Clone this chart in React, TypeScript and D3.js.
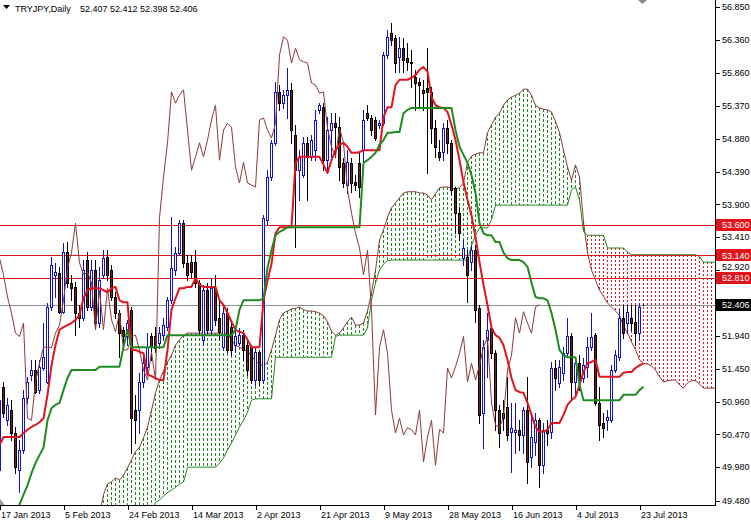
import React from 'react';
import * as d3 from 'd3';

// ---------- DATA ----------
const opens = [49.94, 51.18, 50.68, 50.83, 50.49, 49.94, 50.24, 51.01, 51.36, 51.43,
  51.13, 51.46, 51.25, 52.37, 52.85, 52.88, 52.30, 53.19, 52.73, 52.67,
  52.28, 52.21, 53.07, 52.37, 52.92, 52.13, 52.85, 53.12, 52.92, 52.52,
  52.28, 52.03, 51.93, 52.33, 50.83, 50.83, 51.25, 51.48, 51.93, 51.93,
  51.83, 51.95, 52.07, 52.47, 52.92, 53.18, 53.62, 53.03, 53.04, 53.04,
  52.73, 51.88, 52.62, 52.03, 52.65, 52.21, 51.77, 52.28, 52.07, 51.80,
  51.83, 51.95, 51.80, 51.77, 51.28, 51.70, 51.28, 53.67, 54.31, 54.82,
  55.58, 55.41, 55.53, 55.61, 54.94, 54.41, 54.34, 54.82, 54.61, 54.71,
  55.31, 55.35, 54.56, 55.01, 55.11, 55.05, 54.52, 54.19, 54.52, 54.23,
  54.52, 54.71, 55.26, 55.19, 55.16, 55.09, 55.11, 56.13, 56.46, 56.38,
  56.10, 56.23, 56.08, 56.03, 55.80, 55.73, 55.61, 55.64, 55.58, 55.04,
  54.68, 54.68, 55.04, 54.82, 54.15, 53.77, 53.10, 53.12, 53.04, 53.22,
  52.36, 50.79, 51.88, 52.06, 51.68, 50.83, 50.79, 50.88, 50.51, 50.51,
  50.54, 50.46, 50.83, 50.13, 50.36, 50.68, 50.01, 50.54, 50.51, 51.46,
  51.24, 51.39, 51.68, 51.93, 51.25, 51.53, 51.31, 51.48, 51.77, 51.95,
  50.94, 50.64, 50.68, 50.68, 51.43, 51.62, 52.21, 52.13, 52.21, 52.15,
  51.98, 52.407];

const highs = [51.39, 51.25, 51.01, 50.98, 50.58, 50.39, 51.13, 51.33, 51.58, 51.58,
  51.58, 52.13, 52.43, 53.12, 53.03, 52.97, 53.33, 53.34, 52.85, 52.74,
  52.40, 53.07, 53.19, 53.07, 53.07, 52.97, 53.22, 53.22, 53.00, 52.59,
  52.33, 52.07, 52.18, 52.37, 51.06, 51.39, 51.62, 51.98, 51.98, 52.07,
  52.07, 52.21, 52.52, 53.71, 53.27, 53.67, 53.67, 53.15, 53.15, 53.22,
  52.77, 52.70, 52.73, 52.80, 52.85, 52.47, 52.40, 52.36, 52.15, 52.06,
  52.06, 52.03, 51.88, 51.80, 51.76, 51.73, 53.74, 54.41, 54.86, 55.73,
  55.68, 55.61, 55.94, 55.71, 55.09, 54.71, 54.91, 54.91, 54.94, 55.31,
  55.41, 55.41, 55.20, 55.26, 55.26, 55.20, 54.59, 54.71, 54.59, 54.34,
  54.67, 55.31, 55.38, 55.23, 55.20, 55.16, 56.17, 56.50, 56.61, 56.43,
  56.40, 56.38, 56.31, 56.20, 55.91, 55.79, 55.76, 56.23, 55.65, 55.16,
  54.86, 55.11, 55.16, 54.86, 54.16, 53.86, 53.37, 53.22, 53.29, 53.29,
  52.40, 51.88, 52.28, 52.10, 51.73, 50.91, 50.98, 51.33, 50.94, 50.94,
  50.68, 50.88, 51.33, 50.79, 50.79, 50.71, 50.64, 50.68, 51.55, 51.58,
  51.58, 51.77, 52.21, 51.98, 51.62, 51.65, 51.61, 51.92, 52.28, 51.98,
  51.18, 50.79, 50.83, 51.50, 51.73, 52.33, 52.40, 52.40, 52.40, 52.40,
  52.43, 52.412];

const lows = [49.89, 50.73, 50.61, 50.39, 49.89, 49.61, 50.19, 50.94, 51.28, 51.09,
  51.09, 51.43, 51.24, 52.33, 52.52, 52.28, 52.28, 52.67, 52.47, 51.95,
  52.07, 52.18, 52.33, 52.33, 52.07, 52.07, 52.80, 52.77, 52.47, 52.21,
  51.62, 51.77, 51.80, 50.19, 50.34, 50.49, 51.18, 51.43, 51.58, 51.70,
  51.76, 51.88, 52.03, 52.43, 52.85, 53.15, 52.97, 52.77, 52.80, 52.67,
  51.98, 51.80, 51.98, 51.95, 52.10, 51.88, 51.73, 51.70, 51.65, 51.70,
  51.80, 51.58, 51.36, 51.24, 51.21, 51.21, 51.24, 53.59, 54.26, 54.79,
  55.31, 55.34, 55.19, 54.82, 53.27, 53.97, 54.31, 53.97, 54.56, 54.56,
  55.26, 54.41, 54.41, 54.61, 54.61, 54.26, 54.16, 54.07, 54.09, 54.12,
  54.01, 54.52, 55.16, 54.94, 54.86, 55.04, 55.09, 56.08, 56.28, 55.88,
  55.88, 55.88, 55.91, 55.65, 55.31, 55.35, 55.31, 54.37, 54.82, 54.61,
  54.56, 54.56, 54.67, 54.04, 53.47, 53.37, 53.00, 52.44, 52.92, 52.15,
  50.64, 50.27, 51.33, 51.61, 50.54, 50.28, 50.54, 50.39, 49.91, 50.19,
  50.24, 50.19, 49.74, 49.98, 50.16, 49.68, 49.89, 50.31, 50.42, 51.13,
  51.18, 51.28, 51.62, 50.98, 51.03, 51.13, 51.25, 51.33, 51.73, 50.91,
  50.39, 50.43, 50.54, 50.65, 51.40, 51.58, 51.91, 51.98, 52.03, 51.80,
  51.88, 52.398];

const closes = [50.98, 50.79, 50.91, 50.49, 49.98, 50.24, 51.01, 51.25, 51.43, 51.10,
  51.48, 51.62, 52.37, 53.00, 52.89, 52.30, 53.19, 52.73, 52.65, 52.28,
  52.21, 52.92, 52.37, 52.92, 52.13, 52.77, 53.10, 52.85, 52.52, 52.28,
  51.98, 51.93, 52.13, 50.71, 50.68, 51.25, 51.53, 51.77, 51.77, 51.76,
  51.98, 52.10, 52.47, 52.95, 53.18, 53.62, 53.03, 52.85, 52.89, 52.73,
  52.03, 52.62, 52.03, 52.65, 52.18, 52.00, 52.28, 51.73, 51.73, 51.93,
  51.95, 51.73, 51.43, 51.28, 51.70, 51.28, 53.70, 54.31, 54.82, 55.58,
  55.41, 55.53, 55.61, 55.01, 54.41, 54.61, 54.82, 54.61, 54.86, 55.16,
  55.38, 54.56, 55.01, 55.11, 55.05, 54.46, 54.22, 54.53, 54.22, 54.19,
  54.16, 55.16, 55.19, 55.01, 54.89, 55.11, 56.13, 56.40, 56.35, 56.01,
  56.23, 56.06, 56.03, 56.01, 55.71, 55.68, 55.56, 55.58, 55.04, 54.76,
  54.61, 55.04, 54.82, 54.12, 53.77, 53.47, 53.25, 52.85, 53.22, 52.33,
  50.76, 51.77, 52.03, 51.68, 50.83, 50.49, 50.71, 50.46, 50.57, 50.54,
  50.46, 50.83, 50.06, 50.43, 50.68, 50.01, 50.54, 50.49, 51.46, 51.31,
  51.48, 51.68, 51.93, 51.25, 51.53, 51.28, 51.50, 51.77, 51.92, 50.94,
  50.61, 50.57, 50.73, 51.43, 51.65, 52.21, 51.98, 52.30, 52.13, 51.98,
  52.37, 52.406];

const tenkan = [50.31, 50.43, 50.43, 50.43, 50.43, 50.43, 50.49, 50.54, 50.58, 50.61,
  50.65, 50.71, 51.06, 51.50, 51.80, 52.03, 52.07, 52.10, 52.13, 52.18,
  52.25, 52.50, 52.62, 52.65, 52.65, 52.65, 52.62, 52.59, 52.65, 52.67,
  52.47, 52.44, 52.44, 51.73, 51.73, 51.70, 51.68, 51.36, 51.34, 51.31,
  51.28, 51.28, 51.73, 52.33, 52.50, 52.65, 52.65, 52.67, 52.67, 52.80,
  52.70, 52.67, 52.67, 52.67, 52.67, 52.47, 52.40, 52.28, 52.15, 52.03,
  52.00, 51.98, 51.88, 51.77, 51.77, 51.77, 52.47, 52.76, 53.01, 53.47,
  53.56, 53.56, 53.56, 53.56, 54.52, 54.61, 54.61, 54.61, 54.61, 54.61,
  54.61, 54.49, 54.37, 54.56, 54.71, 54.79, 54.82, 54.76, 54.67, 54.67,
  54.68, 54.71, 54.71, 54.71, 54.71, 54.71, 55.20, 55.35, 55.35, 55.68,
  55.76, 55.76, 55.76, 55.79, 55.83, 55.91, 55.95, 55.88, 55.50, 55.38,
  55.35, 55.34, 55.28, 55.09, 54.86, 54.56, 54.23, 53.97, 53.74, 53.41,
  53.04, 52.70, 52.40, 52.06, 51.95, 51.91, 51.80, 51.58, 51.31, 51.13,
  51.10, 51.09, 50.94, 50.76, 50.58, 50.51, 50.51, 50.54, 50.64, 50.64,
  50.64, 50.76, 50.91, 50.98, 51.03, 51.21, 51.40, 51.53, 51.55, 51.58,
  51.33, 51.33, 51.33, 51.33, 51.33, 51.33, 51.39, 51.40, 51.40, 51.46,
  51.50, 51.53];

const kijun = [48.89, 49.04, 49.16, 49.27, 49.34, 49.42, 49.57, 49.71, 49.89, 50.04,
  50.16, 50.27, 50.68, 50.86, 50.91, 50.94, 51.13, 51.31, 51.43, 51.43,
  51.43, 51.43, 51.43, 51.43, 51.43, 51.48, 51.48, 51.48, 51.48, 51.48,
  51.48, 51.77, 52.03, 51.77, 51.77, 51.77, 51.77, 51.77, 51.77, 51.77,
  51.77, 51.77, 51.95, 51.95, 51.95, 51.95, 51.95, 51.95, 51.95, 51.95,
  51.95, 51.95, 51.95, 51.95, 51.95, 51.95, 51.95, 51.95, 51.95, 52.03,
  52.33, 52.47, 52.47, 52.47, 52.47, 52.47, 52.50, 52.95, 53.22, 53.44,
  53.49, 53.52, 53.56, 53.56, 53.56, 53.56, 53.56, 53.56, 53.56, 53.56,
  53.56, 53.56, 53.56, 53.56, 53.56, 53.56, 53.56, 53.56, 53.56, 53.56,
  53.56, 54.52, 54.56, 54.61, 54.67, 54.79, 54.86, 54.97, 54.97, 54.98,
  54.98, 55.26, 55.31, 55.34, 55.34, 55.34, 55.34, 55.34, 55.34, 55.34,
  55.34, 55.34, 55.34, 55.34, 55.01, 54.76, 54.64, 54.52, 54.34, 54.07,
  53.62, 53.47, 53.44, 53.44, 53.34, 53.34, 53.18, 53.10, 53.07, 53.07,
  53.07, 53.04, 52.97, 52.73, 52.52, 52.50, 52.50, 52.47, 52.28, 52.03,
  51.73, 51.65, 51.62, 51.62, 51.62, 51.21, 50.98, 50.98, 50.98, 50.98,
  50.98, 50.98, 50.98, 50.98, 50.98, 50.98, 51.06, 51.06, 51.06, 51.06,
  51.13, 51.18];

// Senkou spans start at bar index CLOUD_START (already shifted forward)
const CLOUD_START = 25;
const spanA = [49.27, 49.57, 49.73, 49.76, 49.82, 49.79, 49.86, 49.97, 50.09, 50.21,
  50.28, 50.42, 50.58, 50.83, 51.09, 51.28, 51.41, 51.55, 51.65, 51.80,
  51.88, 51.95, 51.98, 51.98, 51.98, 51.98, 51.98, 51.98, 51.98, 51.98,
  51.98, 51.98, 51.98, 51.88, 51.80, 51.77, 51.74, 51.71, 51.64, 51.56,
  51.52, 51.49, 51.55, 51.73, 51.95, 52.18, 52.28, 52.31, 52.34, 52.35,
  52.37, 52.33, 52.31, 52.31, 52.30, 52.28, 52.24, 52.15, 52.01, 51.95,
  51.98, 52.06, 52.15, 52.22, 52.10, 52.10, 52.13, 52.31, 52.58, 52.92,
  53.37, 53.52, 53.71, 53.85, 53.92, 54.00, 54.07, 54.09, 54.09, 54.09,
  54.07, 54.07, 54.04, 53.97, 54.06, 54.15, 54.16, 54.16, 54.15, 54.12,
  54.15, 54.22, 54.53, 54.62, 54.65, 54.67, 54.67, 54.97, 55.09, 55.20,
  55.26, 55.38, 55.46, 55.50, 55.53, 55.56, 55.62, 55.62, 55.53, 55.38,
  55.34, 55.32, 55.31, 55.28, 55.14, 54.97, 54.71, 54.46, 54.26, 54.49,
  54.31, 53.64, 53.18, 52.92, 52.77, 52.62, 52.53, 52.43, 52.37, 52.31,
  52.24, 52.09, 51.98, 51.85, 51.73, 51.58, 51.53, 51.52, 51.49, 51.43,
  51.33, 51.25, 51.27, 51.28, 51.28, 51.21, 51.16, 51.24, 51.27, 51.27,
  51.22, 51.16, 51.16, 51.16, 51.16];

const spanB = [49.19, 49.19, 49.19, 49.19, 49.19, 49.19, 49.19, 49.19, 49.19, 49.19,
  49.19, 49.19, 49.19, 49.31, 49.45, 49.49, 49.55, 49.60, 49.64, 49.68,
  49.73, 49.76, 49.98, 49.98, 49.98, 49.98, 49.98, 49.98, 49.98, 49.98,
  50.04, 50.12, 50.24, 50.34, 50.46, 50.58, 50.68, 50.80, 50.98, 51.00,
  51.00, 51.00, 51.00, 51.00, 51.62, 51.62, 51.62, 51.62, 51.62, 51.62,
  51.62, 51.62, 51.62, 51.62, 51.62, 51.62, 51.62, 51.62, 51.62, 51.93,
  51.95, 51.95, 51.95, 51.95, 51.95, 51.95, 51.95, 52.06, 52.47, 52.73,
  52.92, 53.01, 53.06, 53.07, 53.07, 53.07, 53.07, 53.07, 53.07, 53.07,
  53.07, 53.07, 53.07, 53.07, 53.07, 53.07, 53.07, 53.07, 53.07, 53.07,
  53.07, 53.07, 53.07, 53.29, 53.44, 53.55, 53.55, 53.55, 53.67, 53.89,
  53.89, 53.89, 53.89, 53.89, 53.89, 53.89, 53.89, 53.89, 53.89, 53.89,
  53.89, 53.89, 53.89, 53.89, 53.89, 53.89, 53.89, 53.89, 54.12, 54.16,
  53.97, 53.49, 53.44, 53.44, 53.44, 53.44, 53.44, 53.25, 53.25, 53.25,
  53.25, 53.25, 53.19, 53.15, 53.15, 53.15, 53.15, 53.15, 53.15, 53.15,
  53.15, 53.15, 53.15, 53.15, 53.15, 53.15, 53.15, 53.15, 53.15, 53.15,
  53.12, 53.04, 53.04, 53.04, 53.04];

const CHIKOU_SHIFT = 26;

const dateTickIdx = [0, 16, 32, 48, 64, 80, 96, 112, 128, 144, 160];
const dateTickLabels = ['17 Jan 2013', '5 Feb 2013', '24 Feb 2013', '14 Mar 2013', '2 Apr 2013',
  '21 Apr 2013', '9 May 2013', '28 May 2013', '16 Jun 2013', '4 Jul 2013', '23 Jul 2013'];

// 52.430 is hidden behind the bid label in the reference
const priceTicks = [56.85, 56.36, 55.86, 55.37, 54.88, 54.39, 53.90, 53.41, 52.92,
  51.94, 51.45, 50.96, 50.47, 49.98, 49.48];

const levelLines = [53.6, 53.14, 52.81];
const bidPrice = 52.406;
const symbolText = 'TRYJPY,Daily';
const ohlcText = '52.407 52.412 52.398 52.406';

// ---------- CHART ----------
const W = 751;
const H = 521;
const PW = 715;
const PH = 505;
const FONT = '"Liberation Sans", Arial, sans-serif';

const C_RED = '#e0141c';
const C_GREEN = '#1f8a1f';
const C_BULL = '#1010d0';
const C_BEAR_FILL = '#742020';
const C_BEAR_LINE = '#000000';
const C_BROWN = '#8b3a3a';

export default function App() {
  const x = d3.scaleLinear().domain([0, 160]).range([-0.5, 639.5]);
  const y = d3.scaleLinear().domain([49.416, 56.95]).range([PH, 0]);
  const line = d3.line<[number, number]>().x(d => d[0]).y(d => d[1]);
  const crisp = (v: number) => Math.round(v) + 0.5;

  const tenkanPath = line(tenkan.map((v, i) => [x(i), y(v)]) as [number, number][]) || '';
  const kijunPath = line(kijun.map((v, i) => [x(i), y(v)]) as [number, number][]) || '';
  const chikouPts: [number, number][] = [];
  closes.forEach((c, i) => {
    if (i >= CHIKOU_SHIFT) chikouPts.push([x(i - CHIKOU_SHIFT), y(c)]);
  });
  const chikouPath = line(chikouPts) || '';
  const spanAPath = line(spanA.map((v, k) => [x(k + CLOUD_START), y(v)]) as [number, number][]) || '';
  const spanBPath = line(spanB.map((v, k) => [x(k + CLOUD_START), y(v)]) as [number, number][]) || '';

  // axis-label positions, nudged away from the level / bid tags
  const tagYs = [...levelLines, bidPrice].map(v => y(v));
  const tickLabelY = (v: number) => {
    let ty = y(v);
    tagYs.forEach(t => {
      const d = ty - t;
      if (Math.abs(d) < 10.5) ty = t + (d < 0 ? -10.5 : 10.5);
    });
    return ty;
  };

  return (
    <svg width={W} height={H} style={{ position: 'absolute', left: 0, top: 0, background: '#fff' }}
      fontFamily={FONT}>
      <defs>
        <clipPath id="plot"><rect x={0} y={0} width={PW} height={PH} /></clipPath>
      </defs>
      <rect x={0} y={0} width={W} height={H} fill="#fff" />
      <g clipPath="url(#plot)">
        {/* cloud hatch */}
        <g shapeRendering="crispEdges">
          {spanA.map((a, k) => {
            const b = spanB[k];
            const i = k + CLOUD_START;
            const ya = Math.round(y(a)), yb = Math.round(y(b));
            const up = a >= b;
            return (
              <line key={'h' + k} x1={x(i)} x2={x(i)} y1={Math.min(ya, yb)} y2={Math.max(ya, yb)}
                stroke={up ? C_GREEN : C_RED} strokeWidth={1}
                strokeDasharray={up ? '3,2' : '2,2'} />
            );
          })}
        </g>
        <path d={spanAPath} fill="none" stroke={C_BROWN} strokeWidth={1} />
        <path d={spanBPath} fill="none" stroke={C_GREEN} strokeWidth={1} />
        {/* level lines */}
        <g shapeRendering="crispEdges">
          {levelLines.map(v => (
            <line key={'l' + v} x1={0} x2={PW} y1={crisp(y(v))} y2={crisp(y(v))} stroke={C_RED} strokeWidth={1} />
          ))}
          <line x1={0} x2={PW} y1={crisp(y(bidPrice))} y2={crisp(y(bidPrice))} stroke="#909090" strokeWidth={1} />
        </g>
        {/* candles */}
        <g shapeRendering="crispEdges">
          {closes.map((c, i) => {
            const o = opens[i];
            const bull = c >= o;
            const cx = x(i);
            const yTop = Math.round(y(Math.max(o, c)));
            const yBot = Math.round(y(Math.min(o, c)));
            const col = bull ? C_BULL : C_BEAR_LINE;
            return (
              <g key={'c' + i}>
                <line x1={cx} x2={cx} y1={Math.round(y(highs[i]))} y2={Math.round(y(lows[i])) + 1} stroke={col} strokeWidth={1} />
                {bull ? (
                  <rect x={cx - 1} y={yTop + 0.5} width={2} height={Math.max(yBot - yTop, 0)} fill="#fff" stroke={C_BULL} strokeWidth={1} />
                ) : (
                  <rect x={cx - 1} y={yTop + 0.5} width={2} height={Math.max(yBot - yTop, 0)} fill={C_BEAR_FILL} stroke={C_BEAR_LINE} strokeWidth={1} />
                )}
              </g>
            );
          })}
        </g>
        {/* ichimoku lines */}
        <path d={chikouPath} fill="none" stroke={C_BROWN} strokeWidth={1} />
        <path d={tenkanPath} fill="none" stroke={C_RED} strokeWidth={2} strokeLinejoin="round" />
        <path d={kijunPath} fill="none" stroke={C_GREEN} strokeWidth={2} strokeLinejoin="round" />
      </g>

      {/* axes */}
      <g shapeRendering="crispEdges">
        <line x1={PW + 0.5} x2={PW + 0.5} y1={0} y2={PH + 1} stroke="#000" />
        <line x1={0} x2={PW + 1} y1={PH + 0.5} y2={PH + 0.5} stroke="#000" />
      </g>
      {priceTicks.map(v => (
        <g key={'p' + v}>
          <line x1={PW + 1} x2={PW + 5} y1={crisp(y(v))} y2={crisp(y(v))} stroke="#000" shapeRendering="crispEdges" />
          <text x={PW + 7} y={tickLabelY(v)} dy="0.35em" fontSize={9} fill="#000">{v.toFixed(3)}</text>
        </g>
      ))}
      {levelLines.map(v => (
        <g key={'lb' + v}>
          <rect x={PW + 1} y={Math.round(y(v)) - 6} width={W - PW - 1} height={12} fill={C_RED} />
          <text x={PW + 7} y={y(v)} dy="0.35em" fontSize={9} fill="#fff">{v.toFixed(3)}</text>
        </g>
      ))}
      <rect x={PW + 1} y={Math.round(y(bidPrice)) - 6} width={W - PW - 1} height={12} fill="#000" />
      <text x={PW + 7} y={y(bidPrice)} dy="0.35em" fontSize={9} fill="#fff">{bidPrice.toFixed(3)}</text>

      {dateTickIdx.map((i, k) => (
        <g key={'d' + i}>
          <line x1={crisp(x(i))} x2={crisp(x(i))} y1={PH + 1} y2={PH + 5} stroke="#000" shapeRendering="crispEdges" />
          <text x={x(i) + 1.5} y={518} fontSize={9} fill="#000">{dateTickLabels[k]}</text>
        </g>
      ))}

      {/* title */}
      <polygon points="3,5 10,5 6.5,9" fill="#000" />
      <text x={15} y={12} fontSize={9} fill="#000">{symbolText}</text>
      <text x={80} y={12} fontSize={9} fill="#000">{ohlcText}</text>
      {/* markers */}
      <polygon points="638,0 647,0 642.5,4" fill="#8a8a8a" />
      <polygon points="0,499 0,505 5,505" fill="#9a9a9a" />
    </svg>
  );
}
